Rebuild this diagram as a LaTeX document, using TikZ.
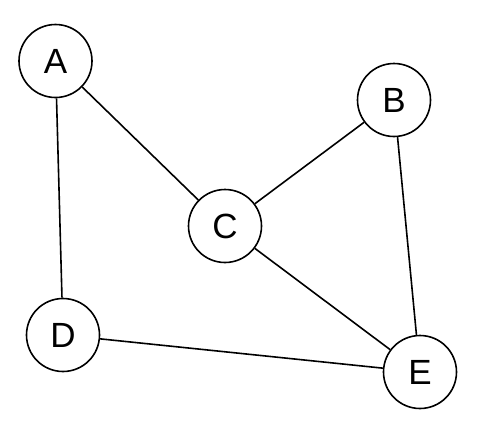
\documentclass[tikz,border=0pt]{standalone}
\usepackage{fontspec}
\setmainfont{Liberation Sans}
\begin{document}
\begin{tikzpicture}[x=1pt,y=-1pt,
  vert/.style={circle,draw,line width=1.6pt,minimum size=73pt,inner sep=0pt,font=\fontsize{35}{40}\selectfont},
  edge/.style={line width=1.6pt}]
\useasboundingbox (0,0) rectangle (477,421);
\node[vert] (A) at (55.5,61) {A};
\node[vert] (B) at (394,100) {B};
\node[vert] (C) at (225,226) {C};
\node[vert] (D) at (63,335) {D};
\node[vert] (E) at (420,372) {E};
\draw[edge] (A) -- (C);
\draw[edge] (A) -- (D);
\draw[edge] (B) -- (C);
\draw[edge] (B) -- (E);
\draw[edge] (C) -- (E);
\draw[edge] (D) -- (E);
\end{tikzpicture}
\end{document}
